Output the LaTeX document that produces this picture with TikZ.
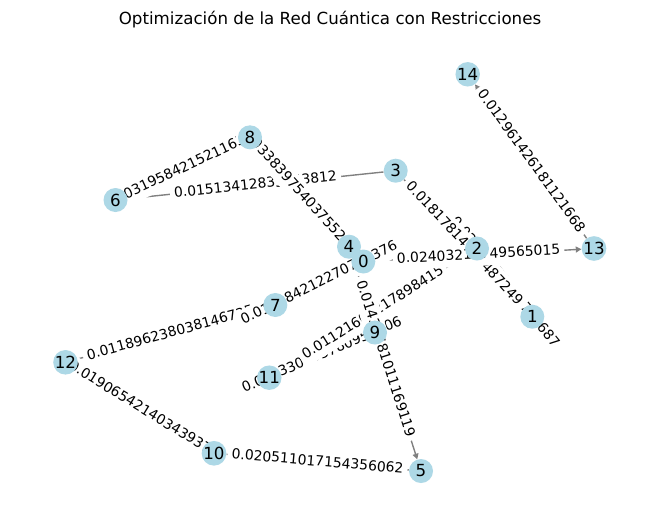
\documentclass[tikz,border=0pt]{standalone}
\usepackage{fontspec}
\setmainfont{DejaVu Sans}
\usetikzlibrary{arrows.meta,backgrounds}
\definecolor{nodeblue}{HTML}{ADD8E6}
\definecolor{edgegray}{HTML}{808080}
\begin{document}
\begin{tikzpicture}[x=0.75pt,y=-0.75pt,
  vert/.style={circle,fill=nodeblue,minimum size=18pt,inner sep=0pt,font=\fontsize{12.5}{14}\selectfont},
  edge/.style={draw=edgegray,line width=1.04pt},
  arr/.style={-{Triangle[length=4.2pt,width=4.4pt]},fill=edgegray},
  elabel/.style={sloped,fill=white,rounded corners=3pt,inner xsep=3.1pt,inner ysep=3.1pt,text height=7.9pt,text depth=2.2pt,font=\fontsize{10.42}{12}\selectfont}]
\useasboundingbox (0,0) rectangle (660,522);
% nodes
\node[vert] (n14) at (467.7,74.3) {14};
\node[vert] (n8) at (250,137.3) {8};
\node[vert] (n3) at (395.7,170.7) {3};
\node[vert] (n6) at (115.5,200) {6};
\node[vert] (n4) at (349,246.7) {4};
\node[vert] (n0) at (363.3,261.5) {0};
\node[vert] (n2) at (477,248.5) {2};
\node[vert] (n13) at (594,248.5) {13};
\node[vert] (n7) at (275.3,305) {7};
\node[vert] (n1) at (532.3,316.7) {1};
\node[vert] (n9) at (375,332.5) {9};
\node[vert] (n12) at (65.5,362.3) {12};
\node[vert] (n11) at (269.3,377.7) {11};
\node[vert] (n10) at (214,453.3) {10};
\node[vert] (n5) at (421,471) {5};
\node[font=\fontsize{12.5}{15}\selectfont,anchor=base] (title) at (330,24) {Optimización de la Red Cuántica con Restricciones};
\begin{scope}[on background layer]
\fill[white] (0,0) rectangle (660,522);
% edges
\draw[edge] (n6) -- (n8);
\draw[edge] (n3) -- (n6);
\draw[edge] (n8) -- (n4);
\draw[edge] (n12) -- (n7);
\draw[edge] (n12) -- (n10);
\draw[edge] (n5) -- (n10);
\draw[edge] (n7) -- (n0);
\draw[edge] (n2) -- (n1);
\draw[edge] (n3) -- (n1);
\draw[edge,arr] (n0) -- (n13);
\draw[edge] (n11) -- (n9);
\draw[edge] (n11) -- (n2);
\draw[edge,arr] (n4) -- (n5);
\draw[edge,arr] (n13) -- (n14);
% edge labels
\path (n6.center) -- node[elabel] (l1) {0.0319584215211634} (n8.center);
\path (n6.center) -- node[elabel] (l2) {0.01513412835243812} (n3.center);
\path (n8.center) -- node[elabel] (l3) {0.03383975403755217} (n4.center);
\path (n12.center) -- node[elabel] (l4) {0.011896238038146735} (n7.center);
\path (n7.center) -- node[elabel] (l7) {0.015384212270795376} (n0.center);
\path (n12.center) -- node[elabel] (l5) {0.01906542140343937} (n10.center);
\path (n10.center) -- node[elabel] (l6) {0.020511017154356062} (n5.center);
\path (n2.center) -- node[elabel] (l8) {0.02135079652741687} (n1.center);
\path (n3.center) -- node[elabel] (l9) {0.01817814235487249} (n1.center);
\path (n11.center) -- node[elabel] (l10) {0.012330303780954106} (n9.center);
\path (n11.center) -- node[elabel] (l11) {0.01121603217898415} (n2.center);
\path (n0.center) -- node[elabel] (l12) {0.02403213749565015} (n13.center);
\path (n4.center) -- node[elabel] (l13) {0.01435781011169119} (n5.center);
\path (n14.center) -- node[elabel] (l14) {0.012961426181121668} (n13.center);
\end{scope}
\end{tikzpicture}
\end{document}
